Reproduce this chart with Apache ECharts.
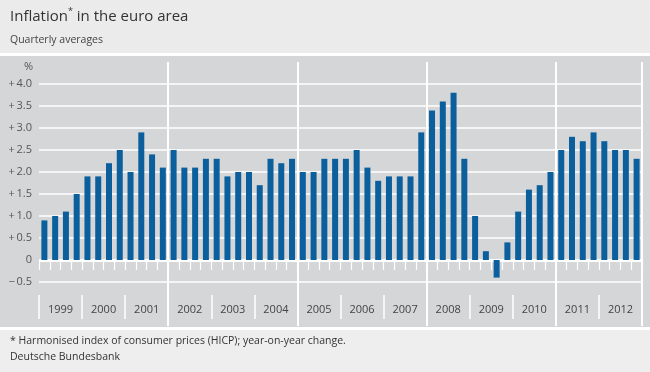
<!DOCTYPE html>
<html>
<head>
<meta charset="utf-8">
<script src="https://cdn.jsdelivr.net/npm/echarts@6/dist/echarts.min.js"></script>
<style>
  html, body { margin: 0; padding: 0; background: #ebebeb; }
  #chart { width: 650px; height: 372px; }
</style>
</head>
<body>
<div id="chart"></div>
<script>
// ---- data ----
const years = ['1999','2000','2001','2002','2003','2004','2005','2006','2007','2008','2009','2010','2011','2012'];
const quarterLabels = ['Q1','Q2','Q3','Q4'];
const inflation = [
  0.9, 1.0, 1.1, 1.5,
  1.9, 1.9, 2.2, 2.5,
  2.0, 2.9, 2.4, 2.1,
  2.5, 2.1, 2.1, 2.3,
  2.3, 1.9, 2.0, 2.0,
  1.7, 2.3, 2.2, 2.3,
  2.0, 2.0, 2.3, 2.3,
  2.3, 2.5, 2.1, 1.8,
  1.9, 1.9, 1.9, 2.9,
  3.4, 3.6, 3.8, 2.3,
  1.0, 0.2, -0.4, 0.4,
  1.1, 1.6, 1.7, 2.0,
  2.5, 2.8, 2.7, 2.9,
  2.7, 2.5, 2.5, 2.3
];
const yTickValues = [-0.5, 0, 0.5, 1.0, 1.5, 2.0, 2.5, 3.0, 3.5, 4.0];
const yTickLabels = ['\u2212\u20090.5', '0', '+\u20090.5', '+\u20091.0', '+\u20091.5', '+\u20092.0', '+\u20092.5', '+\u20093.0', '+\u20093.5', '+\u20094.0'];

const quarters = [];
years.forEach(y => quarterLabels.forEach(q => quarters.push(y + ' ' + q)));

const FONT = '"Open Sans", "Noto Sans", sans-serif';
const chart = echarts.init(document.getElementById('chart'), null, { renderer: 'canvas' });

const gridLines = yTickValues.map(v => ({
  yAxis: v,
  lineStyle: { color: '#ffffff', width: v === 0 ? 3 : 1.5, type: 'solid' }
}));

chart.setOption({
  animation: false,
  backgroundColor: '#ebebeb',
  textStyle: { fontFamily: FONT },
  graphic: [
    { type: 'rect', shape: { x: 0, y: 53, width: 650, height: 3 }, style: { fill: '#ffffff' }, z: -10, silent: true },
    { type: 'rect', shape: { x: 0, y: 56, width: 650, height: 271 }, style: { fill: '#d5d6d8' }, z: -10, silent: true },
    { type: 'rect', shape: { x: 0, y: 327, width: 650, height: 3 }, style: { fill: '#ffffff' }, z: -10, silent: true },
    { type: 'rect', shape: { x: 0, y: 330, width: 650, height: 42 }, style: { fill: '#eeeeee' }, z: -10, silent: true },
    { type: 'text', left: 10, top: 7, style: {
        text: '{t|Inflation}{s|*}{t| in the euro area}',
        rich: {
          t: { fontFamily: FONT, fontSize: 15, fill: '#333333', verticalAlign: 'bottom' },
          s: { fontFamily: FONT, fontSize: 9, fill: '#333333', verticalAlign: 'top', padding: [0, 0, 8, 0] }
        }
      } },
    { type: 'text', left: 10, top: 35, style: { text: 'Quarterly averages', fontFamily: FONT, fontSize: 10.5, fill: '#444444' } },
    { type: 'text', left: 24, top: 61, style: { text: '%', fontFamily: FONT, fontSize: 11, fill: '#555555' } },
    { type: 'text', left: 10, top: 336, style: { text: '* Harmonised index of consumer prices (HICP); year-on-year change.', fontFamily: FONT, fontSize: 10.5, fill: '#333333' } },
    { type: 'text', left: 10, top: 352, style: { text: 'Deutsche Bundesbank', fontFamily: FONT, fontSize: 10.5, fill: '#333333' } }
  ],
  grid: { left: 39, right: 8, top: 62, height: 264, containLabel: false },
  xAxis: [
    {
      type: 'category',
      data: quarters,
      position: 'bottom',
      offset: -31,
      boundaryGap: true,
      axisLine: { show: false },
      axisTick: { show: true, interval: 0, length: 10, lineStyle: { color: '#ffffff', width: 1.2 } },
      axisLabel: { show: false },
      splitLine: { show: false }
    },
    {
      type: 'category',
      data: years,
      position: 'bottom',
      offset: -31,
      boundaryGap: true,
      axisLine: { show: false },
      axisTick: { show: true, interval: 0, length: 24, lineStyle: { color: '#ffffff', width: 1.5 } },
      axisLabel: { show: true, interval: 0, margin: 9, color: '#444444', fontSize: 11, fontFamily: FONT },
      splitLine: { show: true, interval: (i) => i > 0 && i % 3 === 0, lineStyle: { color: '#ffffff', width: 2 } }
    }
  ],
  yAxis: {
    type: 'value',
    min: -1.5,
    max: 4.5,
    interval: 0.5,
    axisLine: { show: false },
    axisTick: { show: false },
    splitLine: { show: false },
    axisLabel: {
      margin: 7,
      color: '#555555',
      fontSize: 11,
      fontFamily: FONT,
      formatter: (v) => {
        const i = yTickValues.findIndex(t => Math.abs(t - v) < 1e-9);
        return i >= 0 ? yTickLabels[i] : '';
      }
    }
  },
  series: [
    {
      type: 'bar',
      name: 'gridlines',
      xAxisIndex: 0,
      data: [],
      z: 1,
      silent: true,
      markLine: {
        silent: true,
        symbol: 'none',
        label: { show: false },
        data: gridLines
      }
    },
    {
      type: 'bar',
      name: 'HICP',
      xAxisIndex: 0,
      data: inflation,
      barWidth: 6,
      barGap: '-100%',
      z: 5,
      itemStyle: { color: '#0b5f9d' }
    }
  ]
});
</script>
</body>
</html>
